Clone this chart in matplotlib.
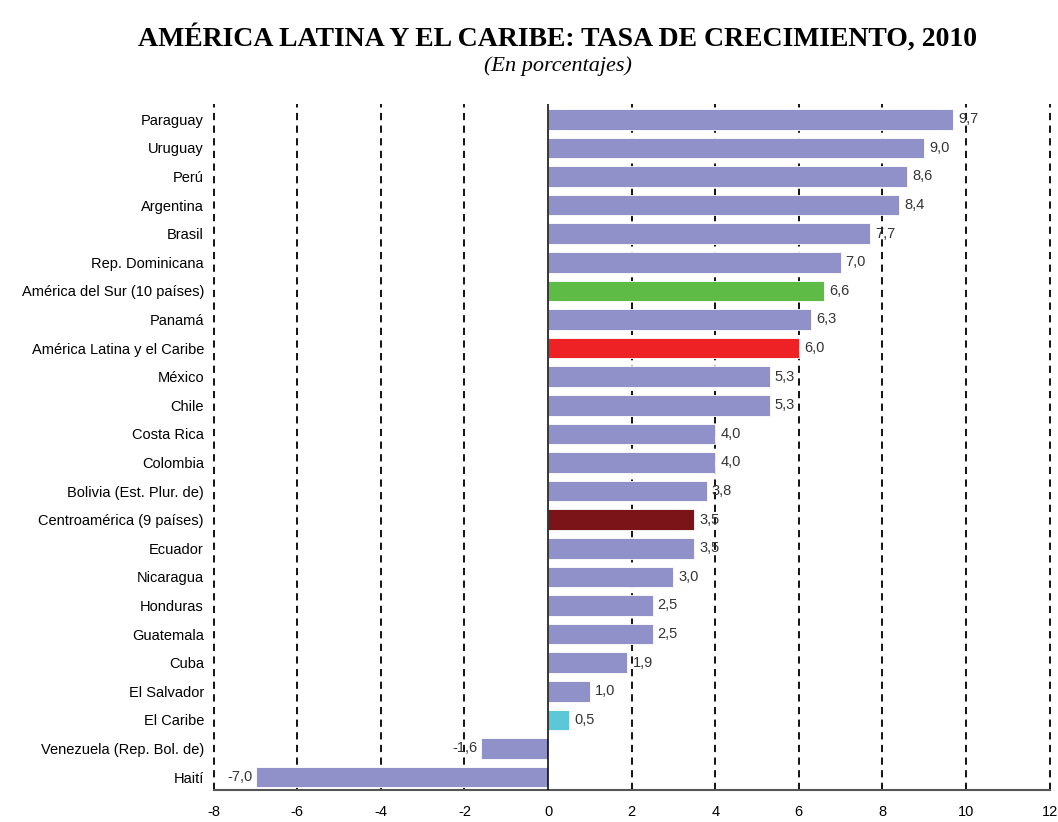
import matplotlib
matplotlib.use("Agg")
import matplotlib.pyplot as plt

countries = ["Paraguay", "Uruguay", "Perú", "Argentina", "Brasil", "Rep. Dominicana",
             "América del Sur (10 países)", "Panamá", "América Latina y el Caribe",
             "México", "Chile", "Costa Rica", "Colombia", "Bolivia (Est. Plur. de)",
             "Centroamérica (9 países)", "Ecuador", "Nicaragua", "Honduras", "Guatemala",
             "Cuba", "El Salvador", "El Caribe", "Venezuela (Rep. Bol. de)", "Haití"]
values = [9.7, 9.0, 8.6, 8.4, 7.7, 7.0, 6.6, 6.3, 6.0, 5.3, 5.3, 4.0, 4.0, 3.8,
          3.5, 3.5, 3.0, 2.5, 2.5, 1.9, 1.0, 0.5, -1.6, -7.0]
xticks = [-8, -6, -4, -2, 0, 2, 4, 6, 8, 10, 12]

base = "#9191C9"
special = {"América del Sur (10 países)": "#5DBB46",
           "América Latina y el Caribe": "#EE2224",
           "Centroamérica (9 países)": "#7A1418",
           "El Caribe": "#5CC8D7"}
colors = [special.get(c, base) for c in countries]

sans = "Liberation Sans"
fig = plt.figure(figsize=(10.58, 8.22), dpi=100)
ax = fig.add_axes([0.202, 0.039, 0.790, 0.835])

y = list(range(len(countries)))
ax.barh(y, values, height=0.72, color=colors, edgecolor="white", linewidth=0.6, zorder=3)

for yi, v in zip(y, values):
    lab = f"{v:.1f}".replace(".", ",")
    if v >= 0:
        ax.text(v + 0.12, yi, lab, va="center", ha="left", fontsize=10.5,
                color="#333333", family=sans, zorder=5)
    else:
        ax.text(v - 0.08, yi, lab, va="center", ha="right", fontsize=10.5,
                color="#333333", family=sans, zorder=5)

ax.set_xlim(-8, 12)
ax.set_ylim(len(countries) - 0.55, -0.55)
ax.set_yticks(y)
ax.set_yticklabels(countries, fontsize=10.5, family=sans)
ax.set_xticks(xticks)
ax.set_xticklabels([str(t) for t in xticks], fontsize=10.5, family=sans)
ax.tick_params(axis="y", length=0, pad=7)
ax.tick_params(axis="x", length=0, pad=11)

for t in xticks:
    if t == 0:
        ax.axvline(0, color="black", linewidth=1.1, zorder=4)
    else:
        ax.axvline(t, color="black", linewidth=1.3, linestyle=(0, (4, 3)),
                   zorder=1, clip_on=False)

for s in ["top", "right", "left"]:
    ax.spines[s].set_visible(False)
ax.spines["bottom"].set_color("#555555")
ax.spines["bottom"].set_linewidth(1.5)

fig.text(0.527, 0.954, "AMÉRICA LATINA Y EL CARIBE: TASA DE CRECIMIENTO, 2010",
         ha="center", va="center", fontsize=20, fontweight="bold", family="Liberation Serif")
fig.text(0.527, 0.920, "(En porcentajes)", ha="center", va="center", fontsize=16,
         style="italic", family="Liberation Serif")

fig.savefig("out.png", dpi=100)
